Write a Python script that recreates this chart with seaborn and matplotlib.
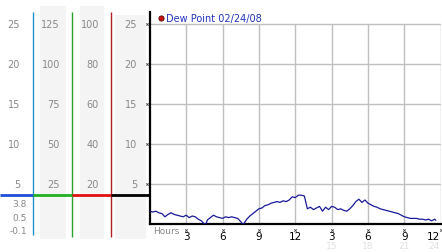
import matplotlib
matplotlib.use("Agg")
import matplotlib.pyplot as plt
import seaborn as sns
import pandas as pd
from matplotlib.patches import Rectangle

# ---- data ----
hours = [0, 0.25, 0.5, 0.75, 1.0, 1.25, 1.5, 1.75, 2.0, 2.25, 2.5, 2.75, 3.0, 3.25, 3.5, 3.75,
         4.0, 4.25, 4.5, 4.6, 4.75, 5.0, 5.25, 5.5, 5.75, 6.0, 6.25, 6.5, 6.75, 7.0, 7.25, 7.5,
         7.7, 8.0, 8.25, 8.5, 8.75, 9.0, 9.25, 9.5, 9.75, 10.0, 10.25, 10.5, 10.75, 11.0, 11.25,
         11.5, 11.75, 12.0, 12.25, 12.5, 12.75, 13.0, 13.25, 13.5, 13.75, 14.0, 14.25, 14.5,
         14.75, 15.0, 15.25, 15.5, 15.75, 16.0, 16.25, 16.5, 16.75, 17.0, 17.25, 17.5, 17.75,
         18.0, 18.25, 18.5, 18.75, 19.0, 19.25, 19.5, 19.75, 20.0, 20.25, 20.5, 20.75, 21.0,
         21.25, 21.5, 22.0, 22.25, 22.5, 22.75, 23.0, 23.25, 23.5, 23.6]
dew_point = [1.6, 1.5, 1.6, 1.4, 1.3, 0.9, 1.2, 1.4, 1.2, 1.1, 1.0, 0.9, 1.1, 0.8, 1.0, 0.9,
             0.6, 0.4, 0.0, -0.1, 0.5, 0.8, 1.1, 0.9, 0.8, 0.7, 0.9, 0.8, 0.9, 0.8, 0.7, 0.3,
             -0.1, 0.6, 1.0, 1.3, 1.6, 1.9, 2.0, 2.3, 2.4, 2.6, 2.7, 2.8, 2.7, 2.9, 2.8,
             3.0, 3.4, 3.3, 3.6, 3.6, 3.5, 1.9, 2.1, 1.8, 2.0, 2.2, 1.6, 2.1,
             1.8, 2.2, 2.1, 1.8, 1.9, 1.7, 1.6, 1.9, 2.3, 2.8, 3.1, 2.7, 3.0,
             2.6, 2.4, 2.2, 2.1, 1.9, 1.8, 1.7, 1.6, 1.5, 1.4, 1.3, 1.1, 0.9,
             0.8, 0.7, 0.7, 0.6, 0.6, 0.5, 0.6, 0.4, 0.6, 0.45]

y_ticks = [5, 10, 15, 20, 25]
col1_labels = ["5", "10", "15", "20", "25"]
col2_labels = ["25", "50", "75", "100", "125"]
col3_labels = ["20", "40", "60", "80", "100"]
col4_labels = ["5", "10", "15", "20", "25"]
stat_labels = ["3.8", "0.5", "-0.1"]
current_value = 3.8

x_ticks = [3, 6, 9, 12, 15, 18, 21, 24]
x_labels = ["3", "6", "9", "12", "3", "6", "9", "12"]
x_sub_ticks = [15, 18, 21, 24]
x_sub_labels = ["15", "18", "21", "24"]
legend_label = "Dew Point 02/24/08"

df = pd.DataFrame({"hour": hours, "dew": dew_point})

sns.set_style("white")
plt.rcParams['font.family'] = ['DejaVu Sans']

W, H = 442, 253
fig = plt.figure(figsize=(W / 100, H / 100), dpi=100)
fig.patch.set_facecolor("white")


def px_axes(x0, y0, x1, y1):
    return fig.add_axes([x0 / W, 1 - y1 / H, (x1 - x0) / W, (y1 - y0) / H])


# ---- left panel (pixel x, value y with same scale) ----
axl = px_axes(0, 0, 149, 253)
axl.set_xlim(0, 149)
axl.set_ylim(-3.5, 28.125)   # 8 px per unit, 0 at y=225
axl.axis("off")

gray = "#f4f4f4"
for (x0, x1, yb, yt) in [(40, 66, -1.9, 27.2), (80, 104, -1.9, 27.2), (115, 146, -1.9, 26.1)]:
    axl.add_patch(Rectangle((x0, yb), x1 - x0, yt - yb, facecolor=gray, edgecolor="none", zorder=0))

tc = "#888888"
fs = 7
for col_x, labels in [(20, col1_labels), (60, col2_labels), (99, col3_labels), (137, col4_labels)]:
    for v, lab in zip(y_ticks, labels):
        axl.text(col_x, v, lab, ha="right", va="center", color=tc, fontsize=fs)

for yv, lab in zip([2.6, 0.75, -0.875], stat_labels):
    axl.text(27, yv, lab, ha="right", va="center", color=tc, fontsize=fs - 0.5)

# vertical coloured lines
axl.vlines(33, -1.4, 26.5, color="#1f8fd0", lw=1.0)
axl.vlines(72, -1.6, 26.5, color="#2ca02c", lw=1.0)
axl.vlines(111, -1.6, 26.5, color="#b22222", lw=1.0)
# horizontal current-value bars
axl.hlines(current_value - 0.15, 0, 33, color="#1f4fd8", lw=2)
axl.hlines(current_value - 0.15, 33, 72, color="#22b022", lw=2)
axl.hlines(current_value - 0.15, 72, 111, color="#e01010", lw=2)
axl.hlines(current_value - 0.15, 111, 149, color="black", lw=2)

# ---- main plot ----
ax = px_axes(149.8, 13, 440.7, 225)
ax.set_xlim(0, 24)
ax.set_ylim(0, 26.5)
ax.set_facecolor("none")
for s in ["top", "right"]:
    ax.spines[s].set_visible(False)
ax.spines["left"].set_color("black")
ax.spines["left"].set_linewidth(1.6)
ax.spines["bottom"].set_color("black")
ax.spines["bottom"].set_linewidth(1.6)
ax.set_xticks([])
ax.set_yticks([])

gc = "#c0c0c0"
ax.hlines(y_ticks, 0, 24, color=gc, lw=1.0, zorder=1)
ax.vlines(x_ticks, 0, 25, color=gc, lw=1.0, zorder=1)

sns.lineplot(data=df, x="hour", y="dew", ax=ax, color="#1a1a9a", lw=0.9, zorder=3, legend=False)
ax.set_xlabel("")
ax.set_ylabel("")

# tiny tick symbols
ax.scatter([-0.22] * len(y_ticks), y_ticks, marker="x", s=3, lw=0.6, color="#444444", clip_on=False, zorder=4)
ax.scatter(x_ticks, [-0.7] * len(x_ticks), marker="x", s=3, lw=0.6, color="#444444", clip_on=False, zorder=4)

for i, (t, lab) in enumerate(zip(x_ticks, x_labels)):
    ha = "right" if i == len(x_ticks) - 1 else "center"
    ax.text(t - (0.05 if ha == "right" else 0), -1.45, lab, ha=ha, va="center", fontsize=7.5, color="black", clip_on=False)
for t, lab in zip(x_sub_ticks, x_sub_labels):
    ha = "right" if t == 24 else "center"
    ax.text(t - (0.05 if ha == "right" else 0), -2.65, lab, ha=ha, va="center", fontsize=6.5, color="#e0e0e0", clip_on=False)
ax.text(0.25, -0.85, "Hours", ha="left", va="center", fontsize=6.5, color=tc, clip_on=False)

# legend
ax.scatter([0.9], [25.8], s=14, color="#cc1111", edgecolor="#550000", lw=0.6, clip_on=False, zorder=5)
ax.text(1.3, 25.8, legend_label, ha="left", va="center", fontsize=7, color="#2233bb", clip_on=False)

fig.savefig("out.png", dpi=100)
